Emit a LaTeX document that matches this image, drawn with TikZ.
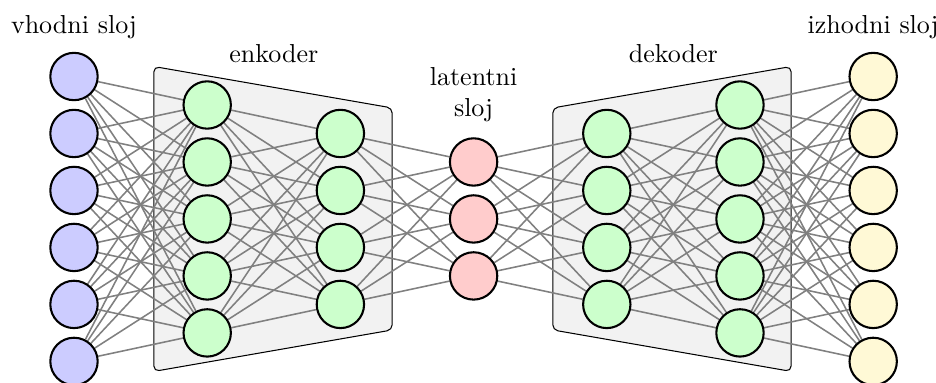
\documentclass[tikz,border=0pt]{standalone}
\usetikzlibrary{positioning}
\usetikzlibrary{backgrounds}

\definecolor{outfill}{RGB}{255,249,214}

\tikzset{
  neuron/.style={circle, draw=black, thick, minimum size=0.64cm, inner sep=0pt},
  link/.style={gray, line width=0.6pt},
  block/.style={draw=black, thin, fill=gray!10, rounded corners=2pt},
}

\begin{document}
\begin{tikzpicture}
\def\dy{0.77}
\useasboundingbox (0,-2.216) rectangle (12.649,2.959);

% neurons of all layers
\foreach \name/\num/\x/\col in {in/6/1.0/blue!20, encA/5/2.8/green!20, encB/4/4.6/green!20, lat/3/6.4/red!20, decA/4/8.2/green!20, decB/5/10.0/green!20, out/6/11.8/outfill}
  \foreach \i in {1,...,\num}
    \node[neuron, fill=\col] (\name-\i) at (\x, {((\num+1)/2-\i)*\dy}) {};

\begin{pgfonlayer}{background}
% encoder and decoder blocks
\draw[block] (2.08,2.06) -- (5.3,1.5) -- (5.3,-1.5) -- (2.08,-2.06) -- cycle;
\draw[block] (7.47,1.5) -- (10.69,2.06) -- (10.69,-2.06) -- (7.47,-1.5) -- cycle;

% full connections between neighbouring layers
\foreach \a/\na/\b/\nb in {in/6/encA/5, encA/5/encB/4, encB/4/lat/3, lat/3/decA/4, decA/4/decB/5, decB/5/out/6}
  \foreach \i in {1,...,\na}
    \foreach \j in {1,...,\nb}
      \draw[link] (\a-\i) -- (\b-\j);
\end{pgfonlayer}

% labels
\node[anchor=base] (lbl-in) at (1.0,2.51) {vhodni sloj};
\node[anchor=base] (lbl-enc) at (3.7,2.12) {enkoder};
\node[align=center] (lbl-lat) at (6.4,1.68) {latentni\\sloj};
\node[anchor=base] (lbl-dec) at (9.1,2.12) {dekoder};
\node[anchor=base] (lbl-out) at (11.8,2.51) {izhodni sloj};
\end{tikzpicture}
\end{document}
